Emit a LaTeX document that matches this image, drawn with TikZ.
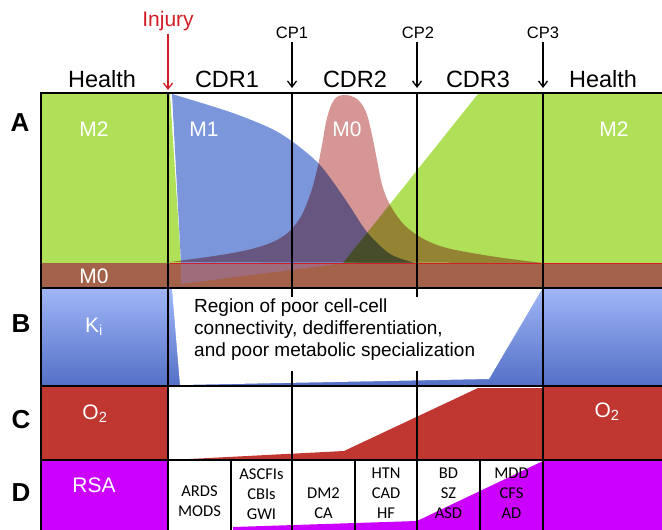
\documentclass[tikz,border=0pt]{standalone}
\usepackage{fontspec}
\setmainfont{Liberation Sans}
\newfontfamily\calib{Carlito}
\usetikzlibrary{arrows.meta}
\definecolor{mtwo}{RGB}{176,224,88}
\definecolor{mzero}{RGB}{164,98,74}
\definecolor{mone}{RGB}{124,150,219}
\definecolor{mpink}{RGB}{207,132,132}
\definecolor{mauve}{RGB}{158,108,122}
\definecolor{otwo}{RGB}{192,54,48}
\definecolor{rsa}{RGB}{204,0,255}
\definecolor{kitop}{RGB}{160,182,247}
\definecolor{kibot}{RGB}{84,112,198}
\definecolor{injred}{RGB}{210,30,40}
\begin{document}
\begin{tikzpicture}[x=1pt,y=-1pt,
  grid/.style={line width=2.4pt,black},
  hdr/.style={font=\fontsize{23.5}{28}\selectfont, anchor=base},
  cplab/.style={font=\fontsize{16.5}{20}\selectfont, anchor=base},
  cparrow/.style={line width=1.3pt,-{Straight Barb[length=6pt,width=9pt]}},
  wlab/.style={text=white,font=\fontsize{21}{25}\selectfont, anchor=base},
  rowlab/.style={font=\bfseries\fontsize{26}{30}\selectfont, anchor=base},
  cell/.style={font=\calib\fontsize{16.5}{20}\selectfont, align=center, inner sep=0pt}]
\useasboundingbox (0,0) rectangle (662,530);
\fill[white] (0,0) rectangle (662,530);
% ---- A ----
\fill[mtwo] (41,94) -- (170,94) -- (181,263) -- (41,263) -- cycle;
\fill[mone] plot[smooth] coordinates {(172,94) (230,112) (270,128) (293,142) (320,165) (345,199) (367,232) (390,254) (415,263)} -- (181,263) -- cycle;
\begin{scope}[blend mode=multiply]
\fill[mtwo] (343,263) -- (478,94) -- (662,94) -- (662,263) -- cycle;
\fill[mpink, opacity=.85] plot[smooth, tension=.6] coordinates {(170,262) (227,254) (262,246) (285,235) (300,218) (310,195) (317,170) (322,145) (327,118) (334,100) (344,95) (357,99) (366,112) (372,135) (377,160) (383,188) (393,210) (410,230) (440,246) (490,256) (543,263)} -- cycle;
\end{scope}
\fill[mzero] (41,263) rectangle (662,288);
\fill[mauve] (181,263) -- (181,284) -- (345,263) -- cycle;
\draw[injred, line width=0.6pt] (170,263.5) -- (662,263.5);
% ---- B ----
\shade[top color=kitop, bottom color=kibot] (41,288) rectangle (662,386);
\fill[white] (172,289) -- (180,385) -- (489,379) -- (542,289) -- cycle;
% ---- C ----
\fill[otwo] (41,386) rectangle (168,460);
\fill[otwo] (543,386) rectangle (662,460);
\fill[otwo] (170,460) -- (344,451) -- (478,388) -- (543,388) -- (543,460) -- cycle;
% ---- D ----
\fill[rsa] (41,460) rectangle (168,530);
\fill[rsa] (543,460) rectangle (662,530);
\fill[rsa] (233,530) -- (233,527) -- (417,521) -- (543,461) -- (543,530) -- cycle;
% ---- grid ----
\foreach \yy in {93,288,386,460} \draw[grid] (39.8,\yy) -- (662,\yy);
\foreach \xx in {41,168,543} \draw[grid] (\xx,92) -- (\xx,530);
\foreach \xx in {292,417} {\draw[grid] (\xx,92) -- (\xx,297); \draw[grid] (\xx,371) -- (\xx,530);}
\foreach \xx in {231,355,480} \draw[grid] (\xx,460) -- (\xx,530);
% ---- headers ----
\node[hdr] (h1) at (102,87) {Health};
\node[hdr] (cdr1) at (227,87) {CDR1};
\node[hdr] (cdr2) at (355,87) {CDR2};
\node[hdr] (cdr3) at (478,87) {CDR3};
\node[hdr] (h2) at (603,87) {Health};
\node[font=\fontsize{21}{25}\selectfont, text=injred, anchor=base, inner sep=2pt] (inj) at (168,27) {Injury};
\coordinate (injend) at (168,90);
\draw[cparrow, injred] (inj.south) -- (injend);
\node[cplab] (cp1) at (292,38.5) {CP1};
\node[cplab] (cp2) at (418,38.5) {CP2};
\node[cplab] (cp3) at (543,38.5) {CP3};
\coordinate (cp1e) at (292,88);
\coordinate (cp2e) at (417,88);
\coordinate (cp3e) at (543,88);
\draw[cparrow] (cp1.south) -- (cp1e);
\draw[cparrow] (cp2.south -| cp2e) -- (cp2e);
\draw[cparrow] (cp3.south) -- (cp3e);
% ---- row labels ----
\node[rowlab] (la) at (20,131) {A};
\node[rowlab] (lb) at (21,332) {B};
\node[rowlab] (lc) at (21,428) {C};
\node[rowlab] (ld) at (21,501) {D};
% ---- white labels ----
\node[wlab] (m2a) at (94,136) {M2};
\node[wlab] (m1) at (204,136) {M1};
\node[wlab] (m0) at (347,136) {M0};
\node[wlab] (m2b) at (614,136) {M2};
\node[wlab] (m0b) at (94,283) {M0};
\node[wlab] (ki) at (94,332) {K\textsubscript{i}};
\node[wlab] (o2a) at (95,419) {O\textsubscript{2}};
\node[wlab] (o2b) at (607,417) {O\textsubscript{2}};
\node[wlab] (rsa) at (94,492) {RSA};
% ---- region text ----
\node[font=\fontsize{19}{22}\selectfont, align=left, anchor=west, inner sep=0pt] (region) at (194,330) {Region of poor cell-cell\\connectivity, dedifferentiation,\\and poor metabolic specialization};
% ---- D cells ----
\node[cell] (ards) at (199.5,501.5) {ARDS\\MODS};
\node[cell] (ascf) at (261.5,493.7) {ASCFIs\\CBIs\\GWI};
\node[cell] (dmca) at (323.5,503.5) {DM2\\CA};
\node[cell] (htn) at (386,493.7) {HTN\\CAD\\HF};
\node[cell] (bdsz) at (448.5,493.7) {BD\\SZ\\ASD};
\node[cell] (mdd) at (511.5,493.7) {MDD\\CFS\\AD};
\end{tikzpicture}
\end{document}
